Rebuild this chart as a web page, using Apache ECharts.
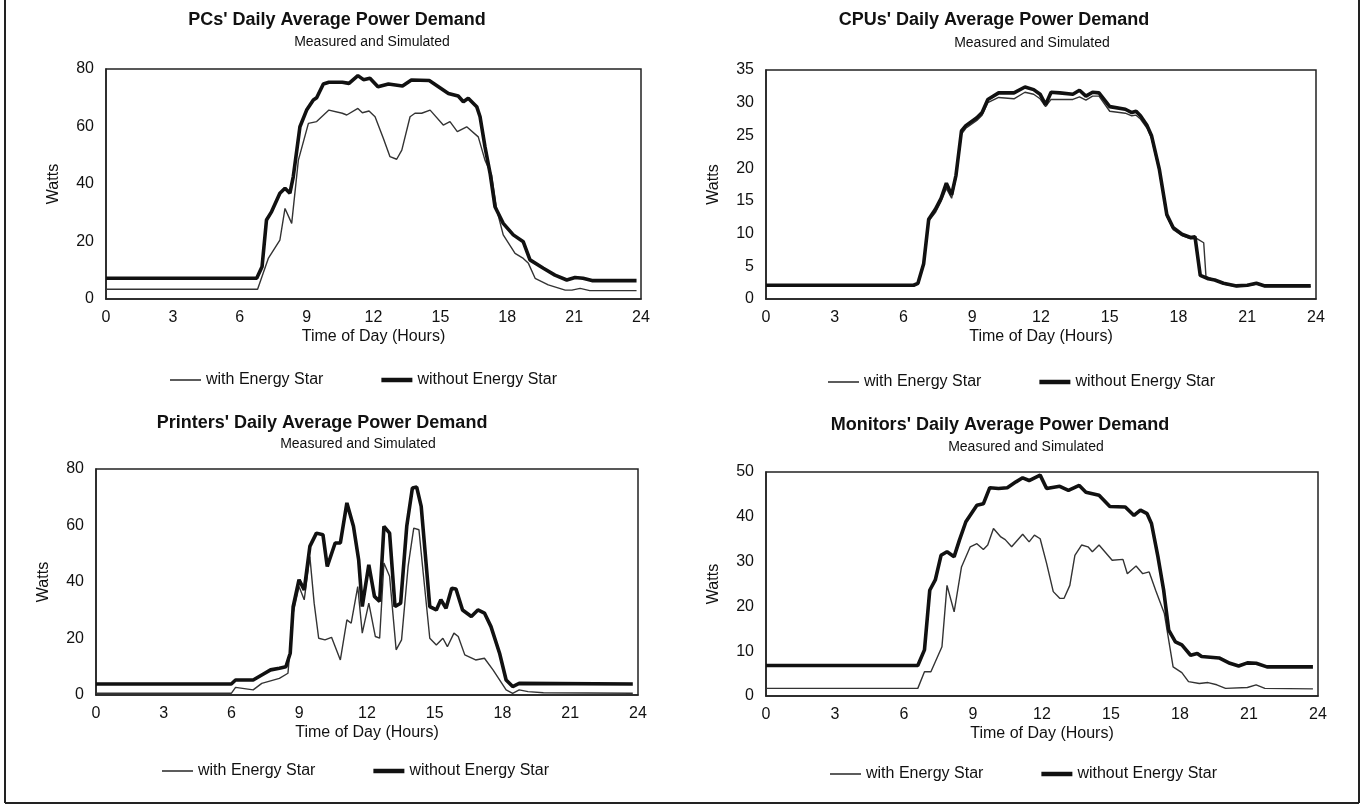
<!DOCTYPE html>
<html>
<head>
<meta charset="utf-8">
<script src="https://cdn.jsdelivr.net/npm/echarts@6/dist/echarts.min.js"></script>
<style>
html, body { margin: 0; padding: 0; background: #fff; }
#main { width: 1363px; height: 809px; }
</style>
</head>
<body>
<div id="main"></div>
<script>
// [hour, watts]
var pcWith = [[0,3.4],[6.8,3.4],[7.28,14.1],[7.8,20.5],[8.03,31.5],[8.33,26.3],[8.63,48.3],[9.08,61.1],[9.45,61.7],[10.0,65.7],[10.6,64.6],[10.8,64],[11.3,66.3],[11.5,64.8],[11.8,65.4],[12.07,63.4],[12.44,55.9],[12.74,49.5],[13.04,48.6],[13.27,51.8],[13.64,63.4],[13.86,64.6],[14.16,64.6],[14.54,65.7],[15.13,60.5],[15.43,61.7],[15.76,58.2],[16.18,59.9],[16.7,56.4],[17.0,48.3],[17.3,43.1],[17.53,31],[17.82,22.3],[18.35,15.9],[18.72,14.1],[18.95,12.4],[19.25,7.2],[19.84,4.9],[20.6,3.1],[20.9,3.1],[21.27,3.7],[21.7,2.9],[23.8,2.9]];
var pcWithout = [[0,7.2],[6.76,7.2],[7.0,11.2],[7.2,27.5],[7.43,30.4],[7.8,36.8],[8.03,38.5],[8.25,36.8],[8.4,42.5],[8.7,59.9],[9.0,65.7],[9.3,69.2],[9.45,70],[9.75,74.8],[10.0,75.4],[10.6,75.4],[10.9,75],[11.3,77.7],[11.55,76.3],[11.84,76.8],[12.2,73.8],[12.67,74.8],[13.3,74.1],[13.7,76.2],[14.5,76],[15.36,71.5],[15.8,70.6],[16.03,68.6],[16.25,69.8],[16.63,66.9],[16.78,63.4],[17.0,53],[17.23,43.7],[17.45,32.1],[17.82,26.3],[18.27,22.3],[18.72,19.9],[19.02,13.6],[19.62,10.7],[20.14,8.3],[20.67,6.6],[21.04,7.5],[21.4,7.2],[21.8,6.4],[23.8,6.4]];

var cpuWith = [[0,2.0],[6.44,2.0],[6.63,2.3],[6.88,5.2],[7.1,11.9],[7.39,13.2],[7.64,14.9],[7.87,16.9],[8.1,15.4],[8.29,18.5],[8.53,25.2],[8.72,26.1],[9.2,27.3],[9.43,28.1],[9.68,30],[10.15,30.8],[10.82,30.6],[11.3,31.6],[11.68,31.3],[11.96,30.6],[12.2,29.4],[12.44,30.5],[12.82,30.5],[13.39,30.5],[13.68,30.9],[13.96,30.4],[14.25,31],[14.53,31],[15.0,28.7],[15.68,28.4],[15.96,28],[16.15,28.1],[16.34,27.5],[16.63,26.1],[16.82,24.6],[17.16,19.6],[17.49,12.6],[17.77,10.6],[18.15,9.7],[18.53,9.2],[18.82,9.2],[19.1,8.6],[19.2,3.4],[19.58,2.9],[19.96,2.3],[20.53,1.9],[21.0,2.0],[21.4,2.3],[21.77,1.9],[23.77,1.9]];
var cpuWithout = [[0,2.1],[6.44,2.1],[6.63,2.4],[6.88,5.4],[7.1,12.2],[7.39,13.7],[7.64,15.4],[7.87,17.7],[8.1,15.9],[8.29,18.9],[8.53,25.7],[8.72,26.5],[9.2,27.7],[9.43,28.5],[9.68,30.5],[10.15,31.5],[10.82,31.5],[11.3,32.4],[11.68,32],[11.96,31.3],[12.2,29.7],[12.44,31.6],[12.82,31.5],[13.39,31.3],[13.68,31.9],[13.96,31],[14.25,31.6],[14.53,31.5],[15.0,29.4],[15.68,29],[15.96,28.5],[16.15,28.7],[16.34,28],[16.63,26.5],[16.82,25],[17.16,19.9],[17.49,12.9],[17.77,10.9],[18.15,9.9],[18.53,9.4],[18.72,9.5],[18.95,3.6],[19.3,3.1],[19.58,2.9],[19.96,2.4],[20.53,2.0],[21.0,2.1],[21.4,2.4],[21.77,2.0],[23.77,2.0]];

var printerWith = [[0,0.6],[5.99,0.6],[6.18,2.7],[6.96,1.8],[7.34,4.1],[8.12,5.9],[8.5,7.7],[8.73,29],[8.99,38.4],[9.22,33.7],[9.47,49],[9.66,32.5],[9.86,20.1],[10.14,19.5],[10.43,20.4],[10.82,12.4],[11.11,26.6],[11.3,25.4],[11.59,38.4],[11.79,21.9],[12.08,32.5],[12.37,20.7],[12.56,20.1],[12.75,46.7],[13.0,42],[13.29,16],[13.53,19.5],[13.82,45.5],[14.07,59.1],[14.3,58.5],[14.49,43.1],[14.78,20.1],[15.07,17.7],[15.36,20.1],[15.56,17.1],[15.85,21.9],[16.04,20.7],[16.33,14.2],[16.81,12.4],[17.2,13],[17.58,8.9],[18.16,1.8],[18.45,0.6],[18.74,1.8],[19.13,1.2],[19.81,0.8],[23.77,0.6]];
var printerWithout = [[0,3.9],[5.99,3.9],[6.18,5.3],[6.96,5.3],[7.34,7.1],[7.73,8.9],[8.12,9.5],[8.41,10],[8.6,14.8],[8.73,31.3],[8.99,40.8],[9.22,37.2],[9.47,52.6],[9.76,57.3],[10.05,56.7],[10.24,45.5],[10.59,53.8],[10.82,53.8],[11.11,68],[11.4,59.7],[11.63,47.9],[11.79,31.3],[12.08,46.1],[12.33,34.9],[12.56,33.1],[12.75,59.7],[13.0,57.3],[13.24,31.3],[13.49,32.5],[13.76,59.7],[14.01,73.3],[14.2,73.6],[14.4,66.8],[14.78,31.3],[15.07,30.1],[15.27,33.7],[15.5,30.7],[15.75,37.8],[15.94,37.5],[16.23,30.1],[16.62,27.8],[16.91,30.1],[17.2,29],[17.49,24.2],[17.87,14.8],[18.16,5.3],[18.45,3.0],[18.74,4.1],[23.77,3.9]];

var monitorWith = [[0,1.7],[6.6,1.7],[6.89,5.4],[7.17,5.4],[7.65,11],[7.87,24.7],[8.18,18.8],[8.5,28.8],[8.88,33.3],[9.17,34],[9.45,32.7],[9.64,33.7],[9.89,37.4],[10.21,35.5],[10.4,34.9],[10.68,33.3],[11.16,36.1],[11.44,34.4],[11.67,35.9],[11.92,35.1],[12.2,29.6],[12.49,23.3],[12.77,21.8],[12.96,21.8],[13.21,24.7],[13.43,31.4],[13.72,33.7],[14.0,33.3],[14.19,32.2],[14.48,33.7],[15.05,30.3],[15.52,30.5],[15.71,27.3],[16.09,29],[16.38,27.3],[16.66,27.7],[16.94,23.6],[17.32,18.4],[17.7,6.5],[18.08,5.2],[18.37,3.2],[18.84,2.8],[19.22,3.0],[19.6,2.5],[19.98,1.7],[20.93,1.9],[21.31,2.5],[21.69,1.7],[23.78,1.6]];
var monitorWithout = [[0,6.8],[6.6,6.8],[6.89,10.3],[7.12,23.6],[7.36,25.9],[7.61,31.4],[7.87,32.2],[8.18,31.1],[8.41,34.8],[8.69,38.9],[9.17,42.6],[9.45,42.9],[9.73,46.5],[10.11,46.3],[10.49,46.5],[10.87,47.8],[11.16,48.7],[11.44,48.1],[11.92,49.3],[12.2,46.3],[12.77,46.8],[13.15,45.9],[13.62,47],[13.91,45.5],[14.48,44.8],[14.95,42.3],[15.62,42.2],[16.0,40.3],[16.28,41.5],[16.57,40.7],[16.76,38.5],[17.04,31.1],[17.29,23.6],[17.51,14.7],[17.8,12.1],[18.08,11.4],[18.46,9.1],[18.75,9.5],[18.94,8.8],[19.7,8.5],[20.17,7.3],[20.55,6.7],[20.93,7.4],[21.31,7.3],[21.78,6.5],[23.78,6.5]];

var titles = ["PCs' Daily Average Power Demand", "CPUs' Daily Average Power Demand",
              "Printers' Daily Average Power Demand", "Monitors' Daily Average Power Demand"];
var subtitle = 'Measured and Simulated';
var seriesNames = ['with Energy Star', 'without Energy Star'];
var yMax = [80, 35, 80, 50];
var yStep = [20, 5, 20, 10];
var hourMax = 24, hourStep = 3;
var lineData = [[pcWith, pcWithout], [cpuWith, cpuWithout], [printerWith, printerWithout], [monitorWith, monitorWithout]];

// layout of the 4 panels (pixels)
var panels = [
  { grid: {left: 106, top: 69, width: 535, height: 230}, title: [337, 20], sub: [372, 42], legend: [170, 372] },
  { grid: {left: 766, top: 70, width: 550, height: 229}, title: [994, 20], sub: [1032, 43], legend: [828, 374] },
  { grid: {left: 96, top: 469, width: 542, height: 226}, title: [322, 423], sub: [358, 444], legend: [162, 763] },
  { grid: {left: 766, top: 472, width: 552, height: 224}, title: [1000, 425], sub: [1026, 447], legend: [830, 766] }
];

var font = 'Liberation Sans, Arial, sans-serif';
var ink = '#111';

var option = {
  animation: false,
  backgroundColor: '#fff',
  textStyle: { fontFamily: font },
  title: [], legend: [], grid: [], xAxis: [], yAxis: [], series: [],
  graphic: [
    { type: 'line', shape: {x1: 5, y1: 0, x2: 5, y2: 803}, style: {stroke: '#222', lineWidth: 2} },
    { type: 'line', shape: {x1: 1359, y1: 0, x2: 1359, y2: 803}, style: {stroke: '#222', lineWidth: 2} },
    { type: 'line', shape: {x1: 5, y1: 803, x2: 1359, y2: 803}, style: {stroke: '#222', lineWidth: 2} }
  ]
};

panels.forEach(function (p, i) {
  option.title.push({
    text: titles[i], left: p.title[0], top: p.title[1] - 11, textAlign: 'center', padding: 0,
    textStyle: { fontSize: 18, fontWeight: 'bold', color: ink, fontFamily: font, lineHeight: 22 }
  });
  option.title.push({
    text: subtitle, left: p.sub[0], top: p.sub[1] - 8, textAlign: 'center', padding: 0,
    textStyle: { fontSize: 14, fontWeight: 'normal', color: ink, fontFamily: font, lineHeight: 16 }
  });
  option.legend.push({
    left: p.legend[0], top: p.legend[1], padding: 0, itemGap: 58,
    itemWidth: 31, itemHeight: 14, symbolKeepAspect: true, selectedMode: false,
    data: [
      { name: seriesNames[0], icon: 'path://M0,0H31V1.6H0Z' },
      { name: seriesNames[1], icon: 'path://M0,0H31V4.5H0Z' }
    ],
    textStyle: { fontSize: 16, color: ink, fontFamily: font }
  });
  option.grid.push(Object.assign({ show: true, borderColor: '#222', borderWidth: 1.5, backgroundColor: 'transparent' }, p.grid));
  option.xAxis.push({
    type: 'value', gridIndex: i, min: 0, max: hourMax, interval: hourStep,
    name: 'Time of Day (Hours)', nameLocation: 'middle', nameGap: 30,
    nameTextStyle: { fontSize: 16, color: ink, fontFamily: font },
    axisLine: { show: true, onZero: false, lineStyle: { color: '#222', width: 1.5 } },
    axisTick: { show: false }, splitLine: { show: false },
    axisLabel: { fontSize: 16, color: ink, margin: 11, fontFamily: font }
  });
  option.yAxis.push({
    type: 'value', gridIndex: i, min: 0, max: yMax[i], interval: yStep[i],
    name: 'Watts', nameLocation: 'middle', nameGap: 44, nameRotate: 90,
    nameTextStyle: { fontSize: 16, color: ink, fontFamily: font },
    axisLine: { show: true, lineStyle: { color: '#222', width: 1.5 } },
    axisTick: { show: false }, splitLine: { show: false },
    axisLabel: { fontSize: 16, color: ink, margin: 12, fontFamily: font }
  });
  option.series.push({
    name: seriesNames[0], type: 'line', xAxisIndex: i, yAxisIndex: i,
    data: lineData[i][0], symbol: 'none', smooth: false,
    itemStyle: { color: '#333' },
    lineStyle: { color: '#333', width: 1.4 }
  });
  option.series.push({
    name: seriesNames[1], type: 'line', xAxisIndex: i, yAxisIndex: i,
    data: lineData[i][1], symbol: 'none', smooth: false,
    itemStyle: { color: '#111' },
    lineStyle: { color: '#111', width: 3.6 }
  });
});

var myChart = echarts.init(document.getElementById('main'));
myChart.setOption(option);
</script>
</body>
</html>
